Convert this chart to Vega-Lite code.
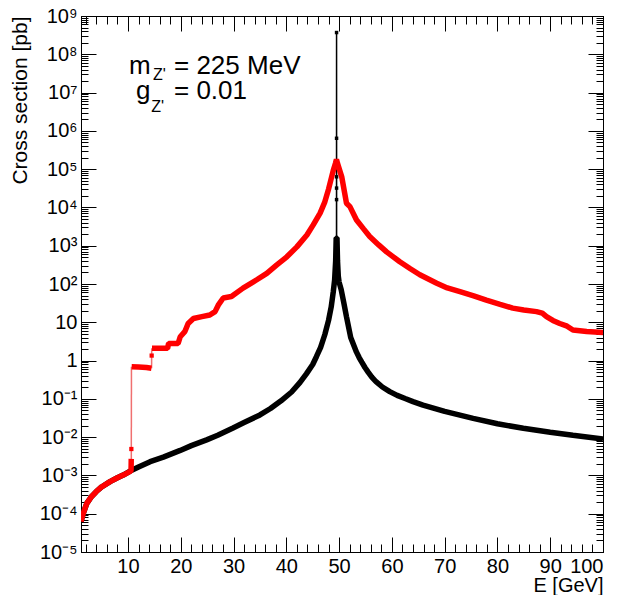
{
  "$schema": "https://vega.github.io/schema/vega-lite/v6.json",
  "width": 522,
  "height": 536,
  "autosize": "none",
  "padding": {"left": 81, "top": 16, "right": 25, "bottom": 43},
  "background": "white",
  "config": {
    "view": {"stroke": "black", "strokeWidth": 1},
    "axis": {"domainColor": "black", "domainWidth": 1, "tickColor": "black", "tickWidth": 1, "labelColor": "black", "titleColor": "black", "labelFont": "Liberation Sans", "titleFont": "Liberation Sans", "labelFontSize": 20, "titleFontSize": 20, "titleFontWeight": "normal", "grid": false, "labelOverlap": false, "labelBound": false, "labelFlush": false}
  },
  "datasets": {
    "black": [
      {"x":1.1,"y":6.3e-5},{"x":1.5,"y":1.0e-4},{"x":2.2,"y":1.86e-4},{"x":3.0,"y":2.7e-4},{"x":4.0,"y":3.8e-4},{"x":5.0,"y":5.0e-4},{"x":6.6,"y":6.9e-4},{"x":8.0,"y":8.7e-4},{"x":9.1,"y":1.02e-3},{"x":10.5,"y":1.32e-3},{"x":12,"y":1.66e-3},{"x":14.2,"y":2.29e-3},{"x":16.7,"y":3.0e-3},{"x":19.9,"y":4.5e-3},{"x":22,"y":6.0e-3},{"x":24.9,"y":8.5e-3},{"x":27,"y":0.0112},{"x":29.9,"y":0.0174},{"x":32,"y":0.024},{"x":35,"y":0.038},{"x":37,"y":0.056},{"x":39,"y":0.089},{"x":41,"y":0.151},{"x":42.6,"y":0.27},{"x":43.8,"y":0.45},{"x":45,"y":0.79},{"x":45.7,"y":1.26},{"x":46.5,"y":2.2},{"x":47.3,"y":4.8},{"x":48.0,"y":11.2},{"x":48.5,"y":25},{"x":48.9,"y":63},{"x":49.15,"y":126},{"x":49.35,"y":400},{"x":49.45,"y":1600},{"x":49.6,"y":1600},{"x":49.7,"y":400},{"x":49.85,"y":158},{"x":50.0,"y":112},{"x":50.4,"y":71},{"x":50.9,"y":32},{"x":51.4,"y":14},{"x":52.2,"y":4.0},{"x":53.3,"y":1.66},{"x":53.8,"y":1.2},{"x":54.3,"y":0.91},{"x":54.9,"y":0.66},{"x":55.5,"y":0.5},{"x":56.2,"y":0.37},{"x":57,"y":0.28},{"x":58.2,"y":0.204},{"x":59.6,"y":0.155},{"x":61,"y":0.123},{"x":62.5,"y":0.102},{"x":64,"y":0.085},{"x":65.9,"y":0.069},{"x":70,"y":0.047},{"x":75.4,"y":0.031},{"x":80,"y":0.0224},{"x":84.9,"y":0.017},{"x":90,"y":0.0135},{"x":94.3,"y":0.0112},{"x":100,"y":0.0089}
    ],
    "spike": [
      {"x":49.51,"y":1600},{"x":49.52,"y":3.7e8},{"x":49.53,"y":1600}
    ],
    "spikeDots": [
      {"x":49.52,"y":3.7e8},{"x":49.52,"y":6.4e5},{"x":49.52,"y":6.3e4},{"x":49.52,"y":3.2e4},{"x":49.52,"y":1.6e4}
    ],
    "red": [
      {"seg":"a","x":1.1,"y":6.3e-5},{"seg":"a","x":1.5,"y":1.0e-4},{"seg":"a","x":2.2,"y":1.86e-4},{"seg":"a","x":3.0,"y":2.7e-4},{"seg":"a","x":4.0,"y":3.8e-4},{"seg":"a","x":5.0,"y":5.0e-4},{"seg":"a","x":6.6,"y":6.9e-4},{"seg":"a","x":8.0,"y":8.7e-4},{"seg":"a","x":9.1,"y":1.02e-3},{"seg":"a","x":10.5,"y":1.3e-3},{"seg":"a","x":10.58,"y":1.35e-3},{"seg":"a","x":10.6,"y":1.8e-3},{"seg":"a","x":10.62,"y":2.7e-3},
      {"seg":"b","x":10.7,"y":0.69},{"seg":"b","x":12,"y":0.68},{"seg":"b","x":13.5,"y":0.66},{"seg":"b","x":14.45,"y":0.63},
      {"seg":"c","x":14.55,"y":2.09},{"seg":"c","x":17.5,"y":2.09},{"seg":"c","x":17.7,"y":2.8},{"seg":"c","x":19.5,"y":2.8},{"seg":"c","x":19.9,"y":4.2},{"seg":"c","x":20.8,"y":5.8},{"seg":"c","x":21.4,"y":9.3},{"seg":"c","x":22.4,"y":12.6},{"seg":"c","x":24,"y":14.1},{"seg":"c","x":25.5,"y":15.5},{"seg":"c","x":26.5,"y":19},{"seg":"c","x":27.1,"y":28},{"seg":"c","x":28.05,"y":43},{"seg":"c","x":29.6,"y":47},{"seg":"c","x":31.8,"y":78},{"seg":"c","x":34.4,"y":129},{"seg":"c","x":36.3,"y":190},{"seg":"c","x":38.2,"y":316},{"seg":"c","x":40.1,"y":513},{"seg":"c","x":42.0,"y":933},{"seg":"c","x":43.9,"y":1900},{"seg":"c","x":45.1,"y":3500},{"seg":"c","x":46.4,"y":7100},{"seg":"c","x":47.3,"y":14000},{"seg":"c","x":48.0,"y":30000},{"seg":"c","x":48.9,"y":93000},{"seg":"c","x":49.3,"y":141000},{"seg":"c","x":49.5,"y":180000},{"seg":"c","x":49.7,"y":141000},{"seg":"c","x":50.5,"y":63000},{"seg":"c","x":51.4,"y":12900},{"seg":"c","x":52.05,"y":10500},{"seg":"c","x":53.3,"y":4700},{"seg":"c","x":54.6,"y":2800},{"seg":"c","x":55.8,"y":1740},{"seg":"c","x":57.5,"y":1050},{"seg":"c","x":59.0,"y":690},{"seg":"c","x":61.5,"y":380},{"seg":"c","x":63.5,"y":250},{"seg":"c","x":65.3,"y":174},{"seg":"c","x":68.5,"y":105},{"seg":"c","x":70.5,"y":79},{"seg":"c","x":72.9,"y":63},{"seg":"c","x":75.5,"y":49},{"seg":"c","x":77.9,"y":38},{"seg":"c","x":80.5,"y":29.5},{"seg":"c","x":82.9,"y":23.4},{"seg":"c","x":85,"y":21},{"seg":"c","x":87.4,"y":19},{"seg":"c","x":88.5,"y":17.4},{"seg":"c","x":89.3,"y":14.1},{"seg":"c","x":90.5,"y":11.2},{"seg":"c","x":91.8,"y":9.3},{"seg":"c","x":93.2,"y":7.9},{"seg":"c","x":94.3,"y":6.3},{"seg":"c","x":96.9,"y":5.75},{"seg":"c","x":100,"y":5.4}
    ],
    "redJump": [
      {"seg":"j1","x":10.63,"y":2.7e-3},{"seg":"j1","x":10.66,"y":0.69},
      {"seg":"j2","x":14.47,"y":0.63},{"seg":"j2","x":14.5,"y":2.09}
    ],
    "redDots": [
      {"x":10.64,"y":4.9e-3},{"x":14.49,"y":1.35}
    ],
    "notes": [
      {"t":"m","x":10.19,"y":3.05e7,"k":"big"},
      {"t":"= 225 MeV","x":18.72,"y":3.05e7,"k":"big"},
      {"t":"g","x":11.52,"y":6.8e6,"k":"big"},
      {"t":"= 0.01","x":18.72,"y":6.8e6,"k":"big"},
      {"t":"Z'","x":14.75,"y":2.14e7,"k":"sub"},
      {"t":"Z'","x":14.4,"y":3.1e6,"k":"sub"}
    ]
  },
  "resolve": {"axis": {"x": "independent", "y": "independent"}},
  "layer": [
    {
      "data": {"name": "black"},
      "mark": {"type": "line", "color": "black", "strokeWidth": 5.5, "strokeJoin": "bevel", "clip": true},
      "encoding": {
        "x": {"field": "x", "type": "quantitative", "scale": {"domain": [1.1, 100], "nice": false, "zero": false},
          "axis": {"orient": "bottom", "values": [2,4,6,8,10,12,14,16,18,20,22,24,26,28,30,32,34,36,38,40,42,44,46,48,50,52,54,56,58,60,62,64,66,68,70,72,74,76,78,80,82,84,86,88,90,92,94,96,98,100],
            "format": "d", "labelExpr": "datum.value % 10 == 0 ? datum.label : ''",
            "labelAlign": {"condition": {"test": "datum.value == 100", "value": "right"}, "value": "center"},
            "tickSize": {"condition": {"test": "datum.value % 10 == 0", "value": -15}, "value": -8},
            "labelPadding": 19, "labelBaseline": "top",
            "title": "E [GeV]", "titleAnchor": "end", "titleAlign": "right", "titleBaseline": "top", "titlePadding": -8}},
        "y": {"field": "y", "type": "quantitative", "scale": {"type": "log", "domain": [1e-5, 1e9], "nice": false},
          "axis": {"orient": "left",
            "values": [1e-5,2e-5,3e-5,4e-5,5e-5,6e-5,7e-5,8e-5,9e-5,1e-4,2e-4,3e-4,4e-4,5e-4,6e-4,7e-4,8e-4,9e-4,0.001,0.002,0.003,0.004,0.005,0.006,0.007,0.008,0.009,0.01,0.02,0.03,0.04,0.05,0.06,0.07,0.08,0.09,0.1,0.2,0.3,0.4,0.5,0.6,0.7,0.8,0.9,1,2,3,4,5,6,7,8,9,10,20,30,40,50,60,70,80,90,100,200,300,400,500,600,700,800,900,1000,2000,3000,4000,5000,6000,7000,8000,9000,1e4,2e4,3e4,4e4,5e4,6e4,7e4,8e4,9e4,1e5,2e5,3e5,4e5,5e5,6e5,7e5,8e5,9e5,1e6,2e6,3e6,4e6,5e6,6e6,7e6,8e6,9e6,1e7,2e7,3e7,4e7,5e7,6e7,7e7,8e7,9e7,1e8,2e8,3e8,4e8,5e8,6e8,7e8,8e8,9e8,1e9],
            "labelExpr": "abs(log(datum.value)/LN10 - round(log(datum.value)/LN10)) > 0.01 ? '' : (round(log(datum.value)/LN10) == 0 ? '1' : (round(log(datum.value)/LN10) == 1 ? '10' : '10' + (datum.value < 1 ? '⁻' : '') + substring('⁰¹²³⁴⁵⁶⁷⁸⁹', abs(round(log(datum.value)/LN10)), abs(round(log(datum.value)/LN10)) + 1)))",
            "tickSize": {"condition": {"test": "abs(log(datum.value)/LN10 - round(log(datum.value)/LN10)) < 0.01", "value": -15}, "value": -7},
            "labelPadding": 19, "labelBaseline": "middle",
            "title": "Cross section [pb]", "titleFontSize": 21, "titleAnchor": "end", "titlePadding": 9}}
      }
    },
    {
      "data": {"name": "spike"},
      "mark": {"type": "line", "color": "black", "strokeWidth": 1.5, "clip": true},
      "encoding": {
        "x": {"field": "x", "type": "quantitative", "scale": {"domain": [1.1, 100], "nice": false, "zero": false},
          "axis": {"orient": "top", "values": [2,4,6,8,10,12,14,16,18,20,22,24,26,28,30,32,34,36,38,40,42,44,46,48,50,52,54,56,58,60,62,64,66,68,70,72,74,76,78,80,82,84,86,88,90,92,94,96,98,100],
            "labels": false, "title": null,
            "tickSize": {"condition": {"test": "datum.value % 10 == 0", "value": -15}, "value": -8}}},
        "y": {"field": "y", "type": "quantitative", "scale": {"type": "log", "domain": [1e-5, 1e9], "nice": false},
          "axis": {"orient": "right",
            "values": [1e-5,2e-5,3e-5,4e-5,5e-5,6e-5,7e-5,8e-5,9e-5,1e-4,2e-4,3e-4,4e-4,5e-4,6e-4,7e-4,8e-4,9e-4,0.001,0.002,0.003,0.004,0.005,0.006,0.007,0.008,0.009,0.01,0.02,0.03,0.04,0.05,0.06,0.07,0.08,0.09,0.1,0.2,0.3,0.4,0.5,0.6,0.7,0.8,0.9,1,2,3,4,5,6,7,8,9,10,20,30,40,50,60,70,80,90,100,200,300,400,500,600,700,800,900,1000,2000,3000,4000,5000,6000,7000,8000,9000,1e4,2e4,3e4,4e4,5e4,6e4,7e4,8e4,9e4,1e5,2e5,3e5,4e5,5e5,6e5,7e5,8e5,9e5,1e6,2e6,3e6,4e6,5e6,6e6,7e6,8e6,9e6,1e7,2e7,3e7,4e7,5e7,6e7,7e7,8e7,9e7,1e8,2e8,3e8,4e8,5e8,6e8,7e8,8e8,9e8,1e9],
            "labels": false, "title": null,
            "tickSize": {"condition": {"test": "abs(log(datum.value)/LN10 - round(log(datum.value)/LN10)) < 0.01", "value": -15}, "value": -7}}}
      }
    },
    {
      "data": {"name": "spikeDots"},
      "mark": {"type": "point", "shape": "square", "filled": true, "color": "black", "size": 12, "opacity": 1, "clip": true},
      "encoding": {
        "x": {"field": "x", "type": "quantitative", "scale": {"domain": [1.1, 100], "nice": false, "zero": false}, "axis": null},
        "y": {"field": "y", "type": "quantitative", "scale": {"type": "log", "domain": [1e-5, 1e9], "nice": false}, "axis": null}
      }
    },
    {
      "data": {"name": "redJump"},
      "mark": {"type": "line", "color": "#f07070", "strokeWidth": 1.5, "clip": true},
      "encoding": {
        "x": {"field": "x", "type": "quantitative", "scale": {"domain": [1.1, 100], "nice": false, "zero": false}, "axis": null},
        "y": {"field": "y", "type": "quantitative", "scale": {"type": "log", "domain": [1e-5, 1e9], "nice": false}, "axis": null},
        "detail": {"field": "seg", "type": "nominal"}
      }
    },
    {
      "data": {"name": "red"},
      "mark": {"type": "line", "color": "#ff0000", "strokeWidth": 5.5, "strokeJoin": "bevel", "clip": true},
      "encoding": {
        "x": {"field": "x", "type": "quantitative", "scale": {"domain": [1.1, 100], "nice": false, "zero": false}, "axis": null},
        "y": {"field": "y", "type": "quantitative", "scale": {"type": "log", "domain": [1e-5, 1e9], "nice": false}, "axis": null},
        "detail": {"field": "seg", "type": "nominal"}
      }
    },
    {
      "data": {"name": "redDots"},
      "mark": {"type": "point", "shape": "square", "filled": true, "color": "#ff0000", "size": 18, "opacity": 1, "clip": true},
      "encoding": {
        "x": {"field": "x", "type": "quantitative", "scale": {"domain": [1.1, 100], "nice": false, "zero": false}, "axis": null},
        "y": {"field": "y", "type": "quantitative", "scale": {"type": "log", "domain": [1e-5, 1e9], "nice": false}, "axis": null}
      }
    },
    {
      "data": {"name": "notes"},
      "transform": [{"filter": "datum.k == 'big'"}],
      "mark": {"type": "text", "align": "left", "baseline": "alphabetic", "font": "Liberation Sans", "fontSize": 26, "color": "black"},
      "encoding": {
        "x": {"field": "x", "type": "quantitative", "scale": {"domain": [1.1, 100], "nice": false, "zero": false}, "axis": null},
        "y": {"field": "y", "type": "quantitative", "scale": {"type": "log", "domain": [1e-5, 1e9], "nice": false}, "axis": null},
        "text": {"field": "t"}
      }
    },
    {
      "data": {"name": "notes"},
      "transform": [{"filter": "datum.k == 'sub'"}],
      "mark": {"type": "text", "align": "left", "baseline": "alphabetic", "font": "Liberation Sans", "fontSize": 16, "color": "black"},
      "encoding": {
        "x": {"field": "x", "type": "quantitative", "scale": {"domain": [1.1, 100], "nice": false, "zero": false}, "axis": null},
        "y": {"field": "y", "type": "quantitative", "scale": {"type": "log", "domain": [1e-5, 1e9], "nice": false}, "axis": null},
        "text": {"field": "t"}
      }
    }
  ]
}
